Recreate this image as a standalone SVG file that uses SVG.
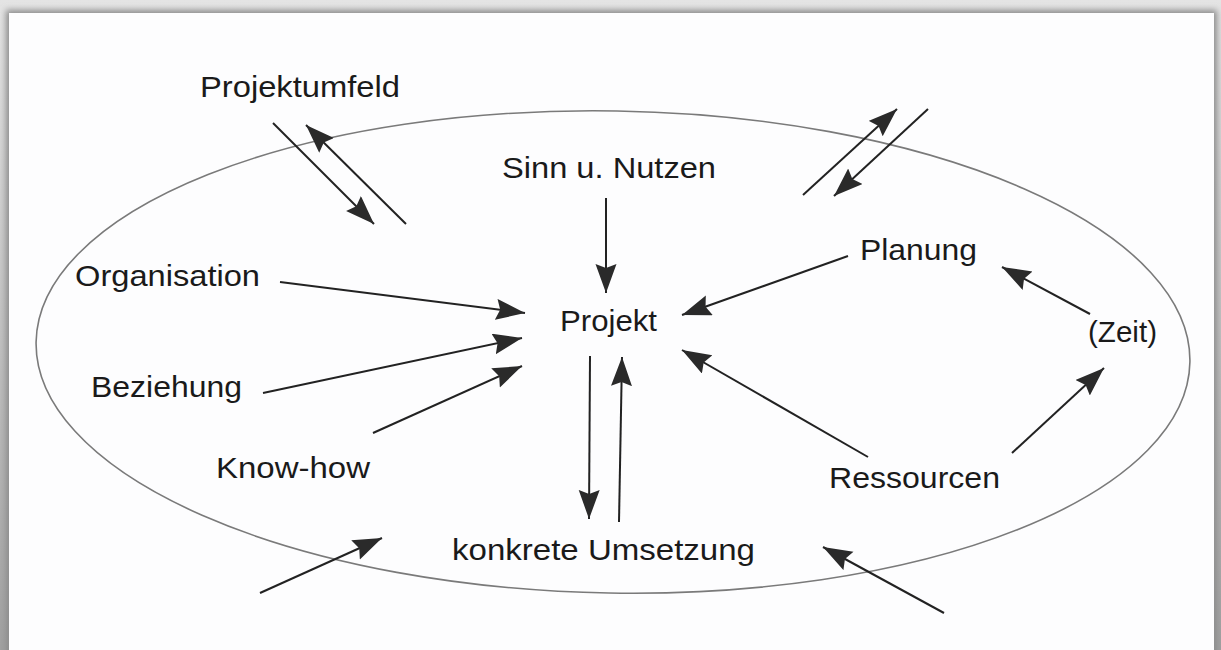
<svg xmlns="http://www.w3.org/2000/svg" width="1221" height="650" viewBox="0 0 1221 650">
  <style>
    .lbl { font-family: "Liberation Sans", Arial, sans-serif; font-size: 30px; fill: #1a1a1a; }
    .arr { stroke: #222; stroke-width: 2; fill: none; marker-end: url(#ah); }
  </style>
  <defs>
    <marker id="ah" markerUnits="userSpaceOnUse" markerWidth="32" markerHeight="24" refX="29" refY="10.5" orient="auto">
      <path d="M0,0 L29,10.5 L0,21 L4,10.5 z" fill="#2a2a2a"/>
    </marker>
    <linearGradient id="topsh" x1="0" y1="0" x2="0" y2="1">
      <stop offset="0" stop-color="#e4e4e4"/>
      <stop offset="1" stop-color="#a0a0a0"/>
    </linearGradient>
    <filter id="blur" x="-5%" y="-5%" width="110%" height="110%">
      <feGaussianBlur stdDeviation="3"/>
    </filter>
  </defs>

  <rect x="0" y="0" width="1221" height="650" fill="url(#topsh)"/>
  <rect x="6" y="10" width="1211" height="660" fill="#8c8c8c" filter="url(#blur)"/>
  <rect x="9" y="13" width="1205" height="650" fill="#fdfdfe"/>

  <g id="umfeld-ellipse">
    <ellipse cx="613" cy="352" rx="577" ry="241" fill="none" stroke="#7a7a7a" stroke-width="1.6" transform="rotate(1 613 352)"/>
  </g>

  <g id="connectors">
    <line class="arr" x1="273" y1="123" x2="374" y2="224"/>
    <line class="arr" x1="406" y1="224" x2="306" y2="125"/>
    <line class="arr" x1="803" y1="195" x2="897" y2="109"/>
    <line class="arr" x1="928" y1="109" x2="834" y2="196"/>
    <line class="arr" x1="606" y1="198" x2="606" y2="293"/>
    <line class="arr" x1="280" y1="282" x2="525" y2="313"/>
    <line class="arr" x1="263" y1="393" x2="522" y2="338"/>
    <line class="arr" x1="373" y1="433" x2="522" y2="366"/>
    <line class="arr" x1="848" y1="256" x2="682" y2="315"/>
    <line class="arr" x1="868" y1="457" x2="682" y2="350"/>
    <line class="arr" x1="590" y1="356" x2="589" y2="519"/>
    <line class="arr" x1="619" y1="522" x2="622" y2="357"/>
    <line class="arr" x1="1090" y1="314" x2="1002" y2="267"/>
    <line class="arr" x1="1012" y1="453" x2="1104" y2="368"/>
    <line class="arr" x1="260" y1="593" x2="382" y2="538"/>
    <line class="arr" x1="944" y1="613" x2="823" y2="547"/>
  </g>

  <g id="projektumfeld"><text class="lbl" x="200" y="97" textLength="200" lengthAdjust="spacingAndGlyphs">Projektumfeld</text></g>
  <g id="sinn"><text class="lbl" x="502" y="178" textLength="214" lengthAdjust="spacingAndGlyphs">Sinn u. Nutzen</text></g>
  <g id="projekt"><text class="lbl" x="560" y="331" textLength="97" lengthAdjust="spacingAndGlyphs">Projekt</text></g>
  <g id="organisation"><text class="lbl" x="75" y="286" textLength="185" lengthAdjust="spacingAndGlyphs">Organisation</text></g>
  <g id="beziehung"><text class="lbl" x="91" y="397" textLength="151" lengthAdjust="spacingAndGlyphs">Beziehung</text></g>
  <g id="knowhow"><text class="lbl" x="216" y="478" textLength="154" lengthAdjust="spacingAndGlyphs">Know-how</text></g>
  <g id="planung"><text class="lbl" x="860" y="260" textLength="117" lengthAdjust="spacingAndGlyphs">Planung</text></g>
  <g id="zeit"><text class="lbl" x="1088" y="342" textLength="69" lengthAdjust="spacingAndGlyphs">(Zeit)</text></g>
  <g id="ressourcen"><text class="lbl" x="829" y="488" textLength="171" lengthAdjust="spacingAndGlyphs">Ressourcen</text></g>
  <g id="umsetzung"><text class="lbl" x="452" y="560" textLength="303" lengthAdjust="spacingAndGlyphs">konkrete Umsetzung</text></g>
</svg>
